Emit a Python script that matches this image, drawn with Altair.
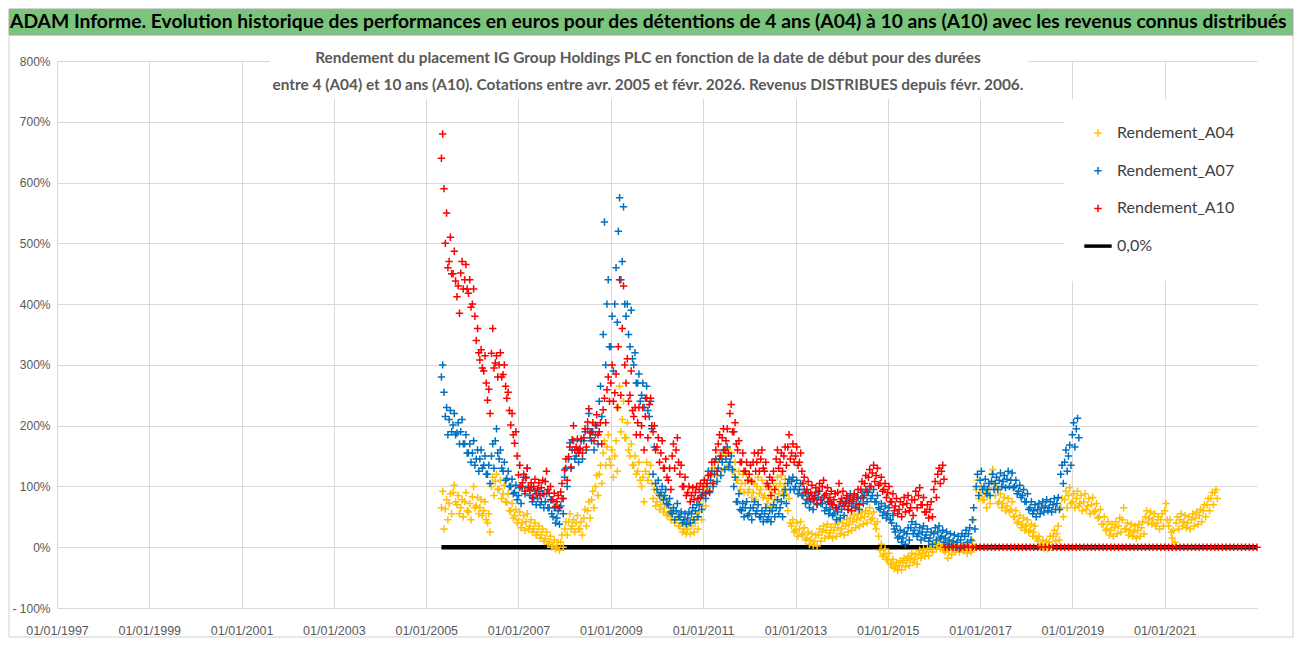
import altair as alt
import pandas as pd

# ---------------- data (in %) ----------------
# one value per month starting May 2005: MID = typical level, HI / LO = top / bottom of the
# daily cloud in that month
START = "2005-05-01"

A04 = [65, 63, 72, 90, 70, 65, 75, 58, 83, 68,
       65, 60, 40, 100, 108, 96, 88, 74, 60, 52,
       45, 40, 42, 35, 30, 25, 20, 14, 8, 3,
       0, 8, 30, 42, 35, 40, 30, 48, 60, 78,
       100, 120, 155, 165, 135, 150, 230, 210, 180, 150,
       135, 125, 100, 125, 120, 80, 75, 70, 65, 55,
       50, 45, 35, 30, 30, 35, 40, 58, 80, 105,
       117, 130, 140, 145, 150, 140, 125, 110, 105, 105,
       95, 90, 100, 95, 85, 80, 90, 100, 105, 100,
       60, 35, 28, 30, 22, 15, 12, 10, 20, 25,
       28, 24, 28, 32, 30, 35, 38, 42, 45, 48,
       50, 55, 48, 30, -5, -12, -20, -28, -32, -30,
       -25, -22, -18, -20, -12, -10, -8, -2, 2, 5,
       0, -8, -5, -3, -3, -2, -4, -3, 10, 95,
       90, 78, 85, 120, 85, 75, 72, 68, 62, 50,
       42, 38, 35, 28, 25, 10, 5, 3, 8, 18,
       22, 65, 78, 85, 75, 80, 72, 75, 68, 70,
       60, 50, 38, 30, 28, 32, 35, 45, 30, 28,
       25, 28, 32, 50, 48, 45, 40, 45, 60, 35,
       15, 40, 45, 42, 40, 45, 48, 52, 60, 70,
       80, 90]
A04_HI = [92, 78, 88, 102, 85, 78, 90, 72, 100, 82,
          78, 75, 55, 115, 120, 110, 102, 88, 72, 62,
          58, 52, 55, 45, 40, 35, 30, 25, 18, 12,
          8, 20, 42, 55, 45, 52, 42, 62, 75, 92,
          118, 135, 175, 185, 160, 175, 265, 240, 205, 170,
          150, 140, 115, 140, 135, 95, 88, 82, 78, 65,
          60, 55, 45, 40, 40, 45, 50, 72, 95, 118,
          130, 145, 155, 158, 162, 155, 140, 125, 120, 120,
          110, 105, 115, 110, 100, 95, 105, 115, 118, 112,
          80, 45, 40, 42, 32, 25, 22, 20, 30, 35,
          38, 33, 38, 42, 40, 45, 48, 52, 55, 58,
          60, 65, 58, 42, 5, -3, -10, -20, -25, -22,
          -18, -15, -10, -12, -5, -3, -2, 5, 8, 10,
          5, 0, 2, 2, 2, 2, 0, 2, 45, 110,
          100, 90, 98, 128, 98, 88, 82, 80, 75, 60,
          52, 48, 45, 38, 35, 18, 12, 10, 18, 28,
          35, 80, 92, 98, 88, 92, 85, 88, 80, 82,
          72, 62, 50, 42, 38, 42, 48, 65, 40, 38,
          35, 38, 42, 60, 58, 55, 50, 55, 72, 45,
          28, 50, 55, 52, 50, 55, 58, 62, 70, 80,
          90, 95]
A04_LO = [30, 45, 55, 75, 55, 50, 60, 45, 65, 55,
          52, 45, 25, 85, 95, 80, 75, 60, 48, 40,
          32, 28, 30, 25, 20, 15, 10, 5, 0, -3,
          -5, 0, 20, 30, 25, 30, 20, 35, 48, 65,
          85, 105, 135, 145, 115, 125, 190, 180, 160, 135,
          120, 110, 75, 110, 105, 68, 62, 58, 52, 45,
          40, 35, 25, 22, 22, 25, 30, 45, 68, 92,
          105, 118, 125, 130, 135, 125, 110, 95, 90, 90,
          82, 78, 88, 82, 72, 68, 78, 88, 92, 88,
          40, 25, 18, 20, 12, 5, 3, 2, 10, 15,
          18, 15, 18, 22, 20, 25, 28, 32, 35, 38,
          40, 45, 38, 18, -15, -20, -28, -35, -38, -37,
          -32, -30, -25, -28, -18, -15, -14, -8, -3, -2,
          -5, -18, -12, -8, -8, -6, -10, -8, 0, 80,
          78, 65, 72, 105, 72, 65, 60, 58, 50, 40,
          32, 28, 25, 18, 15, 2, -2, -3, 0, 10,
          12, 50, 65, 72, 65, 68, 60, 62, 55, 58,
          48, 38, 28, 20, 18, 22, 25, 30, 20, 18,
          15, 18, 22, 40, 38, 35, 30, 35, 45, 25,
          8, 30, 35, 32, 30, 35, 38, 42, 50, 60,
          70, 80]

A07 = [280, 215, 210, 201, 188, 190, 170, 155, 155, 145,
       145, 135, 120, 150, 175, 145, 125, 113, 100, 90,
       85, 100, 115, 85, 80, 80, 75, 75, 65, 50,
       48, 68, 115, 145, 160, 150, 160, 175, 195, 175,
       185, 240, 350, 400, 330, 400, 520, 470, 380, 330,
       300, 270, 250, 245, 215, 120, 95, 90, 85, 70,
       55, 60, 50, 45, 48, 55, 60, 70, 90, 100,
       110, 120, 130, 140, 145, 140, 100, 75, 60, 65,
       55, 65, 60, 50, 55, 50, 60, 65, 65, 85,
       105, 108, 100, 95, 85, 78, 75, 80, 82, 72,
       65, 62, 55, 58, 62, 72, 78, 75, 72, 80,
       85, 90, 85, 75, 62, 58, 55, 40, 25, 18,
       15, 22, 32, 28, 22, 25, 20, 15, 22, 25,
       18, 15, 12, 10, 8, 12, 18, 22, 45, 100,
       110, 100, 95, 108, 105, 110, 108, 112, 110, 100,
       92, 85, 75, 65, 60, 62, 65, 68, 65, 70,
       72, 120, 140, 150, 185, 195]
A07_HI = [300, 230, 225, 220, 205, 210, 185, 170, 175, 160,
          160, 150, 135, 170, 195, 160, 140, 125, 112, 102,
          98, 115, 130, 98, 92, 92, 88, 88, 78, 65,
          60, 80, 130, 172, 175, 160, 175, 190, 220, 190,
          200, 265, 535, 440, 380, 460, 575, 560, 400, 390,
          320, 285, 270, 265, 240, 165, 110, 100, 95, 80,
          65, 72, 58, 55, 58, 65, 70, 82, 110, 125,
          125, 145, 145, 160, 165, 150, 115, 88, 72, 75,
          65, 75, 70, 60, 65, 60, 70, 78, 75, 95,
          112, 115, 110, 105, 95, 88, 85, 90, 92, 82,
          75, 72, 65, 68, 72, 82, 88, 85, 82, 90,
          95, 100, 95, 85, 72, 68, 65, 52, 35, 28,
          25, 32, 42, 38, 32, 35, 30, 25, 32, 35,
          28, 25, 22, 20, 18, 22, 28, 32, 65, 120,
          125, 112, 105, 120, 115, 122, 118, 125, 122, 110,
          102, 95, 88, 75, 70, 72, 75, 78, 75, 80,
          82, 135, 160, 168, 205, 212]
A07_LO = [255, 185, 190, 185, 170, 170, 155, 140, 135, 125,
          130, 120, 105, 130, 155, 130, 110, 100, 88, 78,
          72, 88, 100, 75, 70, 70, 65, 65, 55, 40,
          38, 55, 100, 130, 145, 140, 145, 160, 180, 160,
          170, 215, 300, 330, 290, 370, 440, 400, 350, 310,
          270, 240, 230, 225, 195, 105, 85, 78, 72, 58,
          45, 50, 40, 38, 40, 45, 50, 62, 80, 90,
          100, 108, 118, 128, 132, 128, 75, 62, 50, 52,
          45, 55, 50, 42, 45, 42, 50, 55, 50, 72,
          95, 95, 88, 85, 72, 65, 62, 70, 72, 60,
          55, 52, 45, 48, 52, 62, 68, 65, 62, 72,
          75, 80, 75, 65, 52, 48, 45, 30, 15, 8,
          5, 12, 22, 18, 12, 15, 10, 5, 12, 15,
          8, 5, 2, 0, -2, 2, 8, 12, 30, 85,
          95, 88, 85, 95, 95, 100, 98, 100, 98, 88,
          82, 75, 62, 55, 50, 55, 58, 60, 58, 62,
          62, 105, 125, 135, 165, 180]

A10 = [640, 500, 470, 450, 412, 451, 440, 418, 400, 340,
       308, 290, 242, 319, 303, 300, 284, 245, 201, 171,
       119, 106, 114, 94, 100, 96, 98, 108, 89, 78,
       75, 91, 127, 149, 177, 165, 163, 180, 206, 190,
       201, 190, 226, 259, 270, 254, 330, 360, 270, 250,
       215, 205, 200, 215, 235, 190, 165, 155, 130, 110,
       150, 160, 120, 100, 90, 85, 90, 95, 100, 105,
       120, 140, 170, 180, 175, 220, 190, 160, 140, 125,
       120, 140, 140, 145, 125, 100, 110, 145, 140, 150,
       165, 155, 150, 140, 105, 95, 90, 85, 92, 100,
       88, 82, 78, 90, 80, 75, 72, 78, 82, 95,
       105, 115, 122, 118, 105, 95, 90, 75, 68, 62,
       70, 72, 65, 78, 85, 70, 58, 62, 95, 120,
       125,
       0, 0, 0, 0, 0, 0, 0, 0, 0, 0, 0, 0, 0, 0, 0, 0, 0, 0, 0, 0, 0,
       0, 0, 0, 0, 0, 0, 0, 0, 0, 0, 0, 0, 0, 0, 0, 0, 0, 0, 0, 0, 0,
       0, 0, 0, 0, 0, 0, 0, 0, 0, 0, 0, 0, 0, 0, 0, 0, 0, 0, 0, 0, 0,
       0, 0, 0, 0, 0, 0, 0, 0, 0, 0, 0, 0, 0, 0, 0, 0, 0, 0, 0]
A10_HI = [680, 550, 510, 487, 430, 470, 465, 440, 425, 360,
          325, 315, 260, 360, 315, 320, 300, 255, 220, 190,
          135, 120, 130, 106, 112, 106, 110, 125, 100, 89,
          85, 105, 145, 165, 200, 178, 178, 195, 228, 205,
          218, 205, 245, 280, 300, 285, 440, 430, 310, 290,
          230, 230, 230, 245, 245, 200, 180, 175, 145, 130,
          170, 180, 135, 115, 100, 98, 100, 105, 110, 118,
          140, 160, 185, 195, 195, 235, 205, 175, 155, 140,
          135, 155, 155, 160, 140, 115, 125, 160, 155, 165,
          185, 170, 165, 155, 115, 108, 102, 98, 105, 110,
          98, 92, 88, 105, 92, 85, 82, 88, 95, 108,
          118, 128, 135, 130, 115, 105, 100, 88, 80, 75,
          82, 85, 78, 92, 98, 82, 70, 75, 108, 130,
          135]
A10_LO = [590, 460, 450, 438, 385, 425, 425, 395, 380, 320,
          295, 270, 220, 295, 280, 280, 265, 225, 185, 150,
          100, 92, 98, 82, 88, 85, 88, 95, 78, 67,
          65, 80, 110, 132, 160, 155, 155, 165, 188, 175,
          185, 170, 205, 240, 240, 230, 250, 300, 240, 225,
          185, 185, 160, 180, 200, 160, 140, 130, 115, 95,
          130, 140, 100, 85, 75, 78, 80, 85, 88, 92,
          105, 125, 150, 160, 155, 190, 170, 140, 125, 110,
          108, 125, 125, 130, 105, 85, 95, 130, 125, 135,
          145, 140, 135, 125, 90, 80, 78, 72, 78, 85,
          75, 70, 65, 75, 68, 62, 60, 65, 70, 82,
          92, 100, 108, 102, 92, 82, 75, 60, 55, 50,
          58, 60, 52, 65, 70, 58, 48, 50, 82, 105,
          112]

ZERO_LINE_DATES = ["2005-05-01", "2022-12-31"]
ZERO_LINE_VALUES = [0, 0]

SERIES = ["Rendement_A04", "Rendement_A07", "Rendement_A10", "0,0%"]
COLORS = ["#FFC000", "#0070C0", "#FF0000", "#000000"]

X_TICKS = [1997, 1999, 2001, 2003, 2005, 2007, 2009, 2011, 2013, 2015, 2017, 2019, 2021]
Y_TICKS = [-100, 0, 100, 200, 300, 400, 500, 600, 700, 800]

TITLE = ("ADAM Informe. Evolution historique des performances en euros pour des détentions "
         "de 4 ans (A04) à 10 ans (A10) avec les revenus connus distribués")
SUB1 = "Rendement du placement IG Group Holdings PLC en fonction de la date de début pour des durées"
SUB2 = ("entre 4 (A04) et 10 ans (A10). Cotations entre avr. 2005 et févr. 2026. "
        "Revenus DISTRIBUES depuis févr. 2006.")

# ---------------- tables ----------------
rows = []
for name, groups in zip(SERIES[:3], [(A04, A04_HI, A04_LO), (A07, A07_HI, A07_LO),
                                     (A10, A10_HI, A10_LO)]):
    for vals, day_shift in zip(groups, [0, 10, 20]):
        dates = pd.date_range(START, periods=len(vals), freq="MS") + pd.Timedelta(days=day_shift)
        for d, v in zip(dates, vals):
            rows.append({"date": d.strftime("%Y-%m-%d"), "value": v, "series": name})
pts = pd.DataFrame(rows)
zero = pd.DataFrame({"date": ZERO_LINE_DATES, "value": ZERO_LINE_VALUES, "series": ["0,0%"] * 2})

W, H = 1200, 547
PAD_L, PAD_T, PAD_R, PAD_B = 49, 53, 37, 30

FONT = "Lato, sans-serif"
AXFONT = "Liberation Sans, Arial, sans-serif"
PLUS = "M-1,0L1,0M0,-1L0,1"
DASH = "M-3,0L3,0"

xenc = alt.X("date:T",
             scale=alt.Scale(type="utc",
                             domain=[alt.DateTime(year=1997, month=1, date=1, utc=True),
                                     alt.DateTime(year=2023, month=1, date=1, utc=True)]),
             axis=alt.Axis(values=[alt.DateTime(year=y, month=1, date=1, utc=True) for y in X_TICKS],
                           format="%d/%m/%Y", title=None, domain=False, ticks=False,
                           labelPadding=16, labelFontSize=12.5, labelColor="#595959",
                           labelFont=AXFONT, gridColor="#D9D9D9", labelOverlap=False,
                           labelFlush=False, labelBound=False))
yenc = alt.Y("value:Q",
             scale=alt.Scale(domain=[-100, 800], nice=False, zero=False),
             axis=alt.Axis(values=Y_TICKS, title=None, domain=False, ticks=False,
                           labelPadding=7, labelFontSize=12, labelColor="#595959",
                           labelFont=AXFONT, gridColor="#D9D9D9",
                           labelExpr="datum.value < 0 ? '- ' + (-datum.value) + '%' : datum.value + '%'"))

legend = alt.Legend(title=None, orient="none", legendX=1007, legendY=38, direction="vertical",
                    fillColor="white", padding=26, labelFontSize=16, labelColor="#404040",
                    labelFont=FONT, rowPadding=21.7, labelOffset=11)
color = alt.Color("series:N", scale=alt.Scale(domain=SERIES, range=COLORS), legend=legend)
shape = alt.Shape("series:N", scale=alt.Scale(domain=SERIES, range=[PLUS, PLUS, PLUS, DASH]),
                  legend=legend)
size = alt.Size("series:N", scale=alt.Scale(type="ordinal", domain=SERIES, range=[55, 55, 55, 83]),
                legend=legend)
swidth = alt.StrokeWidth("series:N",
                         scale=alt.Scale(type="ordinal", domain=SERIES, range=[1.5, 1.5, 1.5, 3.5]),
                         legend=legend)

one = pd.DataFrame({"t": [""]})

frame = alt.Chart(one).mark_rect(filled=False, stroke="#D0D0D0", strokeWidth=1).encode(
    x=alt.value(-48), x2=alt.value(W + PAD_R - 1), y=alt.value(-26), y2=alt.value(H + PAD_B - 1))
green = alt.Chart(one).mark_rect(fill="#7BC47E", stroke="#A8A8A8", strokeWidth=1).encode(
    x=alt.value(-48), x2=alt.value(W + PAD_R - 1), y=alt.value(-52), y2=alt.value(-26))

lines_bg = alt.Chart(one).mark_rect(fill="white").encode(
    x=alt.value(213), x2=alt.value(971), y=alt.value(-21), y2=alt.value(38))

zero_line = alt.Chart(zero).mark_line(color="black", strokeWidth=4.5).encode(
    x=xenc, y=yenc, color=color)

points = alt.Chart(pts).mark_point(filled=False, opacity=1).encode(
    x=xenc, y=yenc, color=color, shape=shape, size=size, strokeWidth=swidth)

title_t = alt.Chart(pd.DataFrame({"t": [TITLE]})).mark_text(
    align="left", baseline="middle", font=FONT, fontSize=19.3, fontWeight="bold", color="black"
).encode(text="t:N", x=alt.value(-47), y=alt.value(-39))

sub1 = alt.Chart(pd.DataFrame({"t": [SUB1]})).mark_text(
    align="center", baseline="middle", font=FONT, fontSize=15.4, fontWeight="bold", color="#595959"
).encode(text="t:N", x=alt.value(591), y=alt.value(-3))
sub2 = alt.Chart(pd.DataFrame({"t": [SUB2]})).mark_text(
    align="center", baseline="middle", font=FONT, fontSize=15.4, fontWeight="bold", color="#595959"
).encode(text="t:N", x=alt.value(591), y=alt.value(24))

chart = alt.layer(frame, green, lines_bg, zero_line, points, title_t, sub1, sub2).properties(
    width=W, height=H,
    padding={"left": PAD_L, "top": PAD_T, "right": PAD_R, "bottom": PAD_B},
    autosize=alt.AutoSizeParams(type="none"),
    background="white",
).configure_view(stroke=None)

chart.save("out.html", embed_options={"renderer": "svg", "actions": False})
